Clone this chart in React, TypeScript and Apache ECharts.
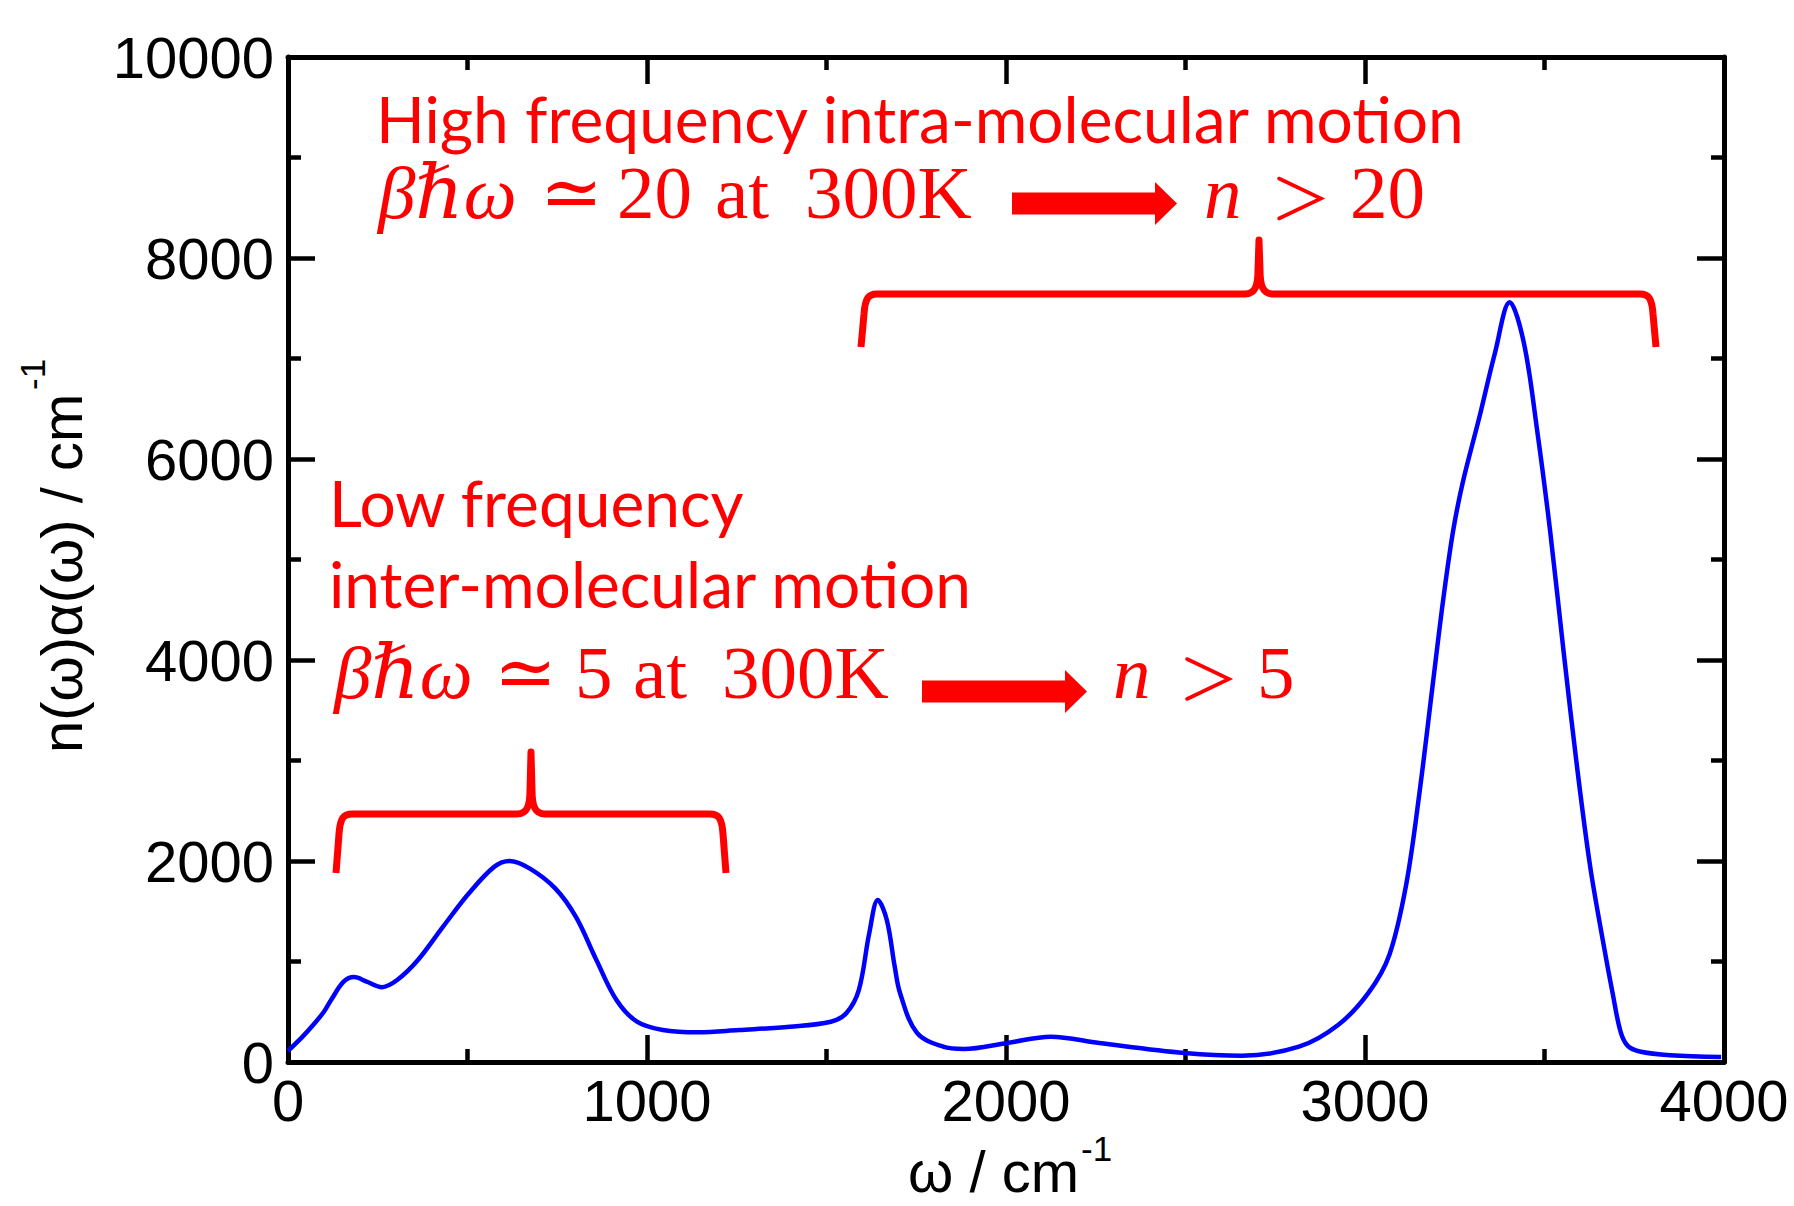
import React, { useEffect, useRef } from "react";
import * as echarts from "echarts";

// ---- data ----
const xTickValues = [0, 1000, 2000, 3000, 4000];
const yTickValues = [0, 2000, 4000, 6000, 8000, 10000];

const wavenumber = [
  0, 40, 70, 100, 120, 155, 184, 219, 262, 304, 362, 432, 504, 575, 617, 674,
  745, 802, 859, 915, 972, 1044, 1143, 1256, 1398, 1512, 1555, 1590, 1619,
  1643, 1668, 1690, 1705, 1752, 1825, 1882, 2003, 2125, 2260, 2498, 2657,
  2816, 2925, 3010, 3068, 3115, 3152, 3189, 3217, 3245, 3272, 3318, 3362,
  3403, 3442, 3479, 3516, 3553, 3590, 3627, 3663, 3690, 3712, 3732, 3765,
  3850, 3992,
];
const intensity = [
  110, 250, 368, 500, 617, 799, 845, 800, 745, 816, 1015, 1347, 1679, 1944,
  2000, 1924, 1725, 1443, 1015, 617, 401, 318, 295, 318, 351, 401, 486, 716,
  1280, 1612, 1413, 950, 684, 289, 152, 129, 189, 252, 189, 90, 63, 152, 368,
  690, 1068, 1771, 2687, 3765, 4577, 5274, 5761, 6408, 7055, 7560, 7164, 6299,
  5274, 4090, 2955, 1950, 1200, 680, 300, 160, 105, 68, 50,
];

const annotationLines = [
  "High frequency intra-molecular motion",
  "Low frequency",
  "inter-molecular motion",
];

// ---- styling / layout ----
const W = 1794;
const H = 1206;
const RED = "#ff0000";
const SANS_AXIS = "'Liberation Sans', Arial, Helvetica, sans-serif";
const SANS_NOTE = "Lato, 'Open Sans', sans-serif";
const SERIF = "'Liberation Serif', 'DejaVu Serif', serif";

function bracePath(xl: number, xr: number, xc: number, yb: number, yh: number, yt: number) {
  return [
    `M${xl} ${yb}`,
    `L${xl + 3} ${yh + 20}`,
    `C${xl + 4} ${yh + 5} ${xl + 7} ${yh} ${xl + 16} ${yh}`,
    `L${xc - 14} ${yh}`,
    `C${xc - 4} ${yh} ${xc - 1} ${yh - 8} ${xc - 1} ${yh - 24}`,
    `L${xc} ${yt}`,
    `L${xc + 1} ${yh - 24}`,
    `C${xc + 1} ${yh - 8} ${xc + 4} ${yh} ${xc + 14} ${yh}`,
    `L${xr - 16} ${yh}`,
    `C${xr - 7} ${yh} ${xr - 4} ${yh + 5} ${xr - 3} ${yh + 20}`,
    `L${xr} ${yb}`,
  ].join(" ");
}

echarts.graphic.registerShape(
  "braceLow",
  echarts.graphic.extendPath(bracePath(336, 726, 531, 873, 814, 752), {})
);
echarts.graphic.registerShape(
  "braceHigh",
  echarts.graphic.extendPath(bracePath(861, 1656, 1259, 347, 294, 240), {})
);

function txt(
  text: string,
  x: number,
  baseline: number,
  size: number,
  family: string,
  k: number,
  italic = false,
  fill = RED
) {
  return {
    type: "text",
    x,
    y: baseline - k * size,
    silent: true,
    style: {
      text,
      fill,
      fontSize: size,
      fontFamily: family,
      fontStyle: italic ? "italic" : "normal",
      align: "left",
      verticalAlign: "middle",
      textAlign: "left",
      textVerticalAlign: "middle",
    },
  };
}

function arrow(x0: number, x1: number, x2: number, yc: number, shaftHalf: number, headHalf: number) {
  return {
    type: "polygon",
    silent: true,
    shape: {
      points: [
        [x0, yc - shaftHalf],
        [x1, yc - shaftHalf],
        [x1, yc - headHalf],
        [x2, yc],
        [x1, yc + headHalf],
        [x1, yc + shaftHalf],
        [x0, yc + shaftHalf],
      ],
    },
    style: { fill: RED },
  };
}

// the ">" relation sign, drawn as two thin strokes (Computer-Modern style)
function greater(x0: number, x1: number, yc: number, half: number) {
  return {
    type: "polyline",
    silent: true,
    shape: {
      points: [
        [x0, yc - half],
        [x1, yc],
        [x0, yc + half],
      ],
    },
    style: { stroke: RED, lineWidth: 3.6, fill: "none", lineJoin: "miter", lineCap: "round" },
  };
}

const K_SERIF = 0.3375;
const K_LATO = 0.387;
const K_ARIAL = 0.3465;
const MATH = 75;
const NOTE = 64;

function axisStyle(showLabels: boolean, position: string, interval: number, max: number, vals: number[]) {
  return {
    type: "value",
    position,
    min: 0,
    max,
    interval,
    axisLine: { show: true, onZero: false, lineStyle: { color: "#000", width: 5 } },
    axisTick: { show: true, inside: true, length: 27, lineStyle: { color: "#000", width: 4.5 } },
    minorTick: { show: true, splitNumber: 2, length: 13, lineStyle: { color: "#000", width: 4.5 } },
    splitLine: { show: false },
    minorSplitLine: { show: false },
    axisLabel: {
      show: showLabels,
      showMinLabel: true,
      showMaxLabel: true,
      color: "#000",
      fontSize: 58,
      fontFamily: SANS_AXIS,
      margin: position === "bottom" ? 9 : 14,
      formatter: (v: number) => (vals.includes(v) ? String(v) : ""),
    },
  };
}

export default function App() {
  const ref = useRef<HTMLDivElement>(null);

  useEffect(() => {
    document.body.style.margin = "0";
    const chart = echarts.init(ref.current as HTMLDivElement, undefined, { renderer: "svg" });

    const data = wavenumber.map((w, i) => [w, intensity[i]]);

    const graphic: any[] = [
      // axis names
      txt("ω / cm", 908, 1192, 58, SANS_AXIS, K_ARIAL, false, "#000"),
      txt("-1", 1081, 1161, 35, SANS_AXIS, K_ARIAL, false, "#000"),
      {
        type: "text",
        x: 82 - K_ARIAL * 58,
        y: 753,
        rotation: Math.PI / 2,
        silent: true,
        style: {
          text: "n(ω)α(ω) / cm",
          fill: "#000",
          fontSize: 58,
          fontFamily: SANS_AXIS,
          align: "left",
          verticalAlign: "middle",
          textAlign: "left",
          textVerticalAlign: "middle",
        },
      },
      {
        type: "text",
        x: 45 - K_ARIAL * 35,
        y: 390,
        rotation: Math.PI / 2,
        silent: true,
        style: {
          text: "-1",
          fill: "#000",
          fontSize: 35,
          fontFamily: SANS_AXIS,
          align: "left",
          verticalAlign: "middle",
          textAlign: "left",
          textVerticalAlign: "middle",
        },
      },
      // high-frequency annotation
      txt(annotationLines[0], 376, 143, NOTE, SANS_NOTE, K_LATO),
      txt("βℏω", 378, 218, MATH, SERIF, K_SERIF, true),
      txt("≃", 540, 218, MATH, SERIF, K_SERIF),
      txt("20", 617, 218, MATH, SERIF, K_SERIF),
      txt("at", 715, 218, MATH, SERIF, K_SERIF),
      txt("300K", 805, 218, MATH, SERIF, K_SERIF),
      arrow(1012, 1155, 1177, 203.5, 11, 21.5),
      txt("n", 1204, 218, MATH, SERIF, K_SERIF, true),
      greater(1279, 1321, 198.5, 20),
      txt("20", 1350, 218, MATH, SERIF, K_SERIF),
      // low-frequency annotation
      txt(annotationLines[1], 329, 527, NOTE, SANS_NOTE, K_LATO),
      txt(annotationLines[2], 329, 608, NOTE, SANS_NOTE, K_LATO),
      txt("βℏω", 334, 698, MATH, SERIF, K_SERIF, true),
      txt("≃", 494, 698, MATH, SERIF, K_SERIF),
      txt("5", 575, 698, MATH, SERIF, K_SERIF),
      txt("at", 633, 698, MATH, SERIF, K_SERIF),
      txt("300K", 722, 698, MATH, SERIF, K_SERIF),
      arrow(922, 1065, 1087, 691.5, 11, 21.5),
      txt("n", 1113, 698, MATH, SERIF, K_SERIF, true),
      greater(1187, 1229, 679, 20),
      txt("5", 1257, 698, MATH, SERIF, K_SERIF),
      // braces
      {
        type: "braceLow",
        x: 0,
        y: 0,
        silent: true,
        style: { fill: "none", stroke: RED, lineWidth: 7, lineJoin: "round", lineCap: "butt" },
      },
      {
        type: "braceHigh",
        x: 0,
        y: 0,
        silent: true,
        style: { fill: "none", stroke: RED, lineWidth: 7, lineJoin: "round", lineCap: "butt" },
      },
    ];

    chart.setOption({
      animation: false,
      backgroundColor: "#fff",
      grid: { left: 288, right: 70, top: 57, bottom: 144, containLabel: false },
      xAxis: [
        axisStyle(true, "bottom", 1000, 4000, xTickValues),
        axisStyle(false, "top", 1000, 4000, xTickValues),
      ],
      yAxis: [
        axisStyle(true, "left", 2000, 10000, yTickValues),
        axisStyle(false, "right", 2000, 10000, yTickValues),
      ],
      series: [
        {
          type: "line",
          xAxisIndex: 0,
          yAxisIndex: 0,
          data,
          showSymbol: false,
          smooth: 0.35,
          lineStyle: { color: "#0000ff", width: 4.5 },
          z: 3,
        },
      ],
      graphic,
    });

    return () => chart.dispose();
  }, []);

  return <div ref={ref} style={{ width: W, height: H }} />;
}
